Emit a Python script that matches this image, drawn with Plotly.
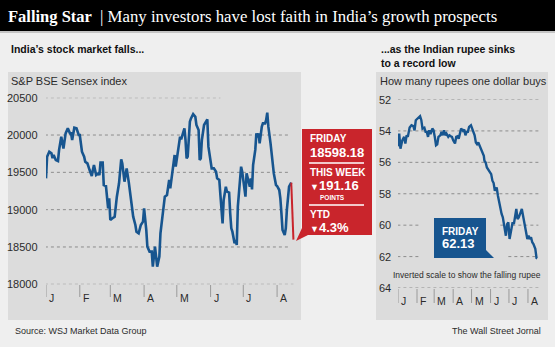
import plotly.graph_objects as go

W, H = 555, 347

# S&P BSE Sensex daily closes, 2013
sensex_dates = [
    "2013-01-01", "2013-01-02", "2013-01-04", "2013-01-06", "2013-01-07", "2013-01-08",
    "2013-01-10", "2013-01-12", "2013-01-13", "2013-01-15", "2013-01-17", "2013-01-19",
    "2013-01-21", "2013-01-23", "2013-01-24", "2013-01-25", "2013-01-27", "2013-01-29",
    "2013-01-31", "2013-02-01", "2013-02-03", "2013-02-05", "2013-02-06", "2013-02-08",
    "2013-02-10", "2013-02-12", "2013-02-13", "2013-02-14", "2013-02-16", "2013-02-18",
    "2013-02-19", "2013-02-20", "2013-02-22", "2013-02-23", "2013-02-25", "2013-02-27",
    "2013-02-28", "2013-03-01", "2013-03-03", "2013-03-05", "2013-03-07", "2013-03-09",
    "2013-03-11", "2013-03-12", "2013-03-14", "2013-03-16", "2013-03-18", "2013-03-20",
    "2013-03-22", "2013-03-24", "2013-03-25", "2013-03-27", "2013-03-29", "2013-03-31",
    "2013-04-01", "2013-04-03", "2013-04-04", "2013-04-06", "2013-04-08", "2013-04-09",
    "2013-04-11", "2013-04-13", "2013-04-15", "2013-04-16", "2013-04-18", "2013-04-20",
    "2013-04-22", "2013-04-24", "2013-04-25", "2013-04-26", "2013-04-27", "2013-04-29",
    "2013-04-30", "2013-05-02", "2013-05-03", "2013-05-04", "2013-05-05", "2013-05-07",
    "2013-05-08", "2013-05-09", "2013-05-10", "2013-05-11", "2013-05-13", "2013-05-14",
    "2013-05-16", "2013-05-18", "2013-05-19", "2013-05-21", "2013-05-22", "2013-05-23",
    "2013-05-24", "2013-05-26", "2013-05-27", "2013-05-28", "2013-05-29", "2013-05-30",
    "2013-06-01", "2013-06-02", "2013-06-04", "2013-06-06", "2013-06-07", "2013-06-09",
    "2013-06-10", "2013-06-11", "2013-06-12", "2013-06-13", "2013-06-15", "2013-06-16",
    "2013-06-18", "2013-06-19", "2013-06-20", "2013-06-21", "2013-06-23", "2013-06-24",
    "2013-06-25", "2013-06-26", "2013-06-28", "2013-06-29", "2013-06-30", "2013-07-02",
    "2013-07-03", "2013-07-04", "2013-07-05", "2013-07-07", "2013-07-08", "2013-07-09",
    "2013-07-10", "2013-07-12", "2013-07-13", "2013-07-14", "2013-07-15", "2013-07-16",
    "2013-07-18", "2013-07-19", "2013-07-21", "2013-07-22", "2013-07-23", "2013-07-24",
    "2013-07-26", "2013-07-27", "2013-07-28", "2013-07-29", "2013-07-31", "2013-08-01",
    "2013-08-03", "2013-08-04", "2013-08-05", "2013-08-06", "2013-08-08", "2013-08-09",
    "2013-08-10", "2013-08-11", "2013-08-12", "2013-08-14",
]
sensex_values = [
    19420, 19710, 19777, 19755, 19690, 19732,
    19665, 19652, 19800, 19978, 19820, 20022,
    20090, 20022, 20022, 19933, 20098, 20090,
    20000, 20000, 19777, 19710, 19643, 19620,
    19531, 19451, 19531, 19598, 19464, 19486,
    19464, 19630, 19630, 19330, 19317, 19018,
    19152, 18862, 18884, 18906, 19174, 19353,
    19674, 19620, 19375, 19553, 19362, 19130,
    18906, 18795, 18705, 18683, 18795, 18839,
    19018, 18728, 18504, 18438, 18438, 18237,
    18504, 18237, 18371, 18683, 18929, 19174,
    19196, 19397, 19286, 19397, 19531, 19732,
    19576, 19777, 19911, 19978, 19942, 20045,
    20090, 19933, 19688, 19710, 20179, 20223,
    20281, 20245, 20134, 20067, 19665, 19688,
    19933, 20134, 20156, 20179, 20210, 19844,
    19643, 19553, 19553, 19509, 19420, 19397,
    19196, 19000, 18817, 19130, 19308, 19241,
    19228, 18951, 18750, 18705, 18549, 18594,
    18527, 19040, 19353, 19576, 19509, 19241,
    19174, 19486, 19420, 19308, 19420, 19272,
    19598, 19800, 20022, 19969, 20022, 19888,
    20112, 20156, 20156, 20201, 20299, 20112,
    19888, 19755, 19665, 19486, 19330, 19317,
    19263, 19152, 18951, 18728, 18661, 18750,
    19000, 19174, 19308, 19362,
]
sensex_friday_date = "2013-08-16"
sensex_friday = 18598.18
sensex_week_change = 191.16
sensex_ytd_pct = 4.3

# Rupees per U.S. dollar, 2013
rupee_dates = [
    "2013-01-01", "2013-01-03", "2013-01-05", "2013-01-08", "2013-01-11", "2013-01-13",
    "2013-01-15", "2013-01-17", "2013-01-20", "2013-01-23", "2013-01-26", "2013-01-28",
    "2013-01-30", "2013-02-03", "2013-02-06", "2013-02-08", "2013-02-10", "2013-02-13",
    "2013-02-15", "2013-02-17", "2013-02-19", "2013-02-21", "2013-02-23", "2013-02-26",
    "2013-02-28", "2013-03-02", "2013-03-04", "2013-03-06", "2013-03-08", "2013-03-11",
    "2013-03-13", "2013-03-15", "2013-03-17", "2013-03-19", "2013-03-21", "2013-03-24",
    "2013-03-26", "2013-03-28", "2013-03-30", "2013-04-01", "2013-04-04", "2013-04-06",
    "2013-04-08", "2013-04-10", "2013-04-12", "2013-04-14", "2013-04-17", "2013-04-19",
    "2013-04-21", "2013-04-23", "2013-04-25", "2013-04-27", "2013-04-30", "2013-05-02",
    "2013-05-04", "2013-05-06", "2013-05-08", "2013-05-10", "2013-05-12", "2013-05-14",
    "2013-05-16", "2013-05-19", "2013-05-21", "2013-05-22", "2013-05-24", "2013-05-26",
    "2013-05-28", "2013-05-31", "2013-06-02", "2013-06-04", "2013-06-06", "2013-06-08",
    "2013-06-11", "2013-06-13", "2013-06-15", "2013-06-17", "2013-06-19", "2013-06-21",
    "2013-06-24", "2013-06-26", "2013-06-28", "2013-06-30", "2013-07-02", "2013-07-04",
    "2013-07-07", "2013-07-09", "2013-07-11", "2013-07-13", "2013-07-15", "2013-07-17",
    "2013-07-20", "2013-07-22", "2013-07-24", "2013-07-26", "2013-07-28", "2013-07-31",
    "2013-08-02", "2013-08-04", "2013-08-06", "2013-08-08", "2013-08-10", "2013-08-13",
    "2013-08-15", "2013-08-16",
]
rupee_values = [
    54.98, 54.17, 55.13, 54.60, 54.38, 54.80,
    54.28, 54.38, 53.79, 53.64, 53.70, 53.96,
    53.32, 53.15, 53.06, 53.30, 53.85, 53.79,
    54.06, 54.06, 54.38, 53.96, 54.20, 53.85,
    53.96, 54.38, 54.91, 54.85, 54.38, 54.28,
    54.06, 54.28, 53.96, 54.28, 54.17, 54.38,
    54.28, 54.34, 54.38, 54.60, 54.80, 54.38,
    54.34, 54.49, 54.17, 53.85, 54.00, 53.91,
    54.28, 54.06, 54.06, 53.74, 53.64, 53.85,
    54.06, 54.28, 54.74, 54.85, 54.74, 54.95,
    55.16, 55.38, 55.59, 55.90, 56.01, 56.33,
    56.43, 56.65, 56.75, 57.17, 57.32, 57.81,
    57.60, 58.13, 58.55, 58.76, 59.29, 59.50,
    60.24, 60.67, 59.93, 59.82, 60.88, 60.46,
    59.82, 59.93, 59.40, 58.97, 59.61, 59.50,
    59.19, 58.97, 59.40, 59.82, 60.46, 60.88,
    60.67, 60.88, 60.77, 61.09, 61.20, 61.51,
    62.10, 62.13,
]

month_starts = ["2013-01-01", "2013-02-01", "2013-03-01", "2013-04-01",
                "2013-05-01", "2013-06-01", "2013-07-01", "2013-08-01"]
month_labels = ["J", "F", "M", "A", "M", "J", "J", "A"]

sensex_ticks = [18000, 18500, 19000, 19500, 20000, 20500]
rupee_ticks = [52, 54, 56, 58, 60, 62, 64]

BLUE = "#17558f"
RED = "#c9252c"
INK = "#2b2b2b"
GRID = "#8d8d8d"
PANEL = "#dcdcdc"
PAGE = "#efefef"
SANS = "Liberation Sans, Arial, sans-serif"
SERIF = "Liberation Serif, Times New Roman, serif"


def fx(p):
    return p / W


def fy(p):
    return 1 - p / H


fig = go.Figure()

fig.add_trace(go.Scatter(
    x=sensex_dates, y=sensex_values, mode="lines",
    line=dict(color=BLUE, width=2.6), xaxis="x", yaxis="y",
    hoverinfo="skip", showlegend=False))
fig.add_trace(go.Scatter(
    x=[sensex_dates[-1], sensex_friday_date], y=[sensex_values[-1], sensex_friday],
    mode="lines", line=dict(color=RED, width=2), xaxis="x", yaxis="y",
    hoverinfo="skip", showlegend=False))
fig.add_trace(go.Scatter(
    x=rupee_dates, y=rupee_values, mode="lines",
    line=dict(color=BLUE, width=2.4), xaxis="x2", yaxis="y2",
    hoverinfo="skip", showlegend=False))

shapes = []
annotations = []

# page furniture
shapes.append(dict(type="rect", xref="paper", yref="paper", x0=0, x1=1,
                   y0=fy(31), y1=1, fillcolor="#000", line_width=0, layer="below"))
shapes.append(dict(type="rect", xref="paper", yref="paper", x0=0, x1=1,
                   y0=fy(33), y1=fy(31), fillcolor="#c4c4c4", line_width=0, layer="below"))
shapes.append(dict(type="rect", xref="paper", yref="paper", x0=fx(8), x1=fx(301),
                   y0=fy(320), y1=fy(72), fillcolor=PANEL, line_width=0, layer="below"))
shapes.append(dict(type="rect", xref="paper", yref="paper", x0=fx(376), x1=fx(548),
                   y0=fy(320), y1=fy(72), fillcolor=PANEL, line_width=0, layer="below"))

# Sensex gridlines
for v in sensex_ticks:
    end = "2013-06-10" if v == 20500 else ("2013-08-16" if v == 18000 else "2013-08-12")
    shapes.append(dict(type="line", xref="x", yref="y", x0="2012-12-31", x1=end,
                       y0=v, y1=v, line=dict(color=GRID, width=1, dash="dot"), layer="below"))
    annotations.append(dict(xref="paper", yref="y", x=fx(40), y=v, text=str(v),
                            xanchor="right", yanchor="middle", showarrow=False,
                            font=dict(family=SANS, size=11, color=INK)))

# Rupee gridlines (broken around the callout)
for v in rupee_ticks:
    if v in (60, 62):
        segs = [("2012-12-31", "2013-02-05"), ("2013-06-17" if v == 60 else "2013-06-30", "2013-08-18")]
    else:
        segs = [("2012-12-31", "2013-08-18")]
    for a, b in segs:
        shapes.append(dict(type="line", xref="x2", yref="y2", x0=a, x1=b, y0=v, y1=v,
                           line=dict(color=GRID, width=1, dash="dot"), layer="below"))
    annotations.append(dict(xref="paper", yref="y2", x=fx(393), y=v, text=str(v),
                            xanchor="right", yanchor="middle", showarrow=False,
                            font=dict(family=SANS, size=11, color=INK)))

# month ticks
for d, lab in zip(month_starts, month_labels):
    shapes.append(dict(type="line", xref="x", yref="paper", x0=d, x1=d,
                       y0=fy(297), y1=fy(285), line=dict(color="#9a9a9a", width=1)))
    annotations.append(dict(xref="x", yref="paper", x=d, y=fy(298), text=lab,
                            xanchor="left", yanchor="middle", xshift=1, showarrow=False,
                            font=dict(family=SANS, size=10.5, color=INK)))
    shapes.append(dict(type="line", xref="x2", yref="paper", x0=d, x1=d,
                       y0=fy(303), y1=fy(289), line=dict(color="#9a9a9a", width=1)))
    annotations.append(dict(xref="x2", yref="paper", x=d, y=fy(301), text=lab,
                            xanchor="left", yanchor="middle", xshift=1, showarrow=False,
                            font=dict(family=SANS, size=10.5, color=INK)))

# red Sensex callout
red_path = (f"M {fx(302)},{fy(129)} L {fx(372)},{fy(129)} L {fx(372)},{fy(235)} "
            f"L {fx(308)},{fy(235)} L {fx(296)},{fy(241)} L {fx(302)},{fy(228)} Z")
shapes.append(dict(type="path", xref="paper", yref="paper", path=red_path,
                   fillcolor=RED, line_width=0))
for yy in (163, 205):
    shapes.append(dict(type="line", xref="paper", yref="paper", x0=fx(309), x1=fx(364),
                       y0=fy(yy), y1=fy(yy), line=dict(color="white", width=1.5)))

# blue rupee callout
blue_path = (f"M {fx(434)},{fy(218)} L {fx(486)},{fy(218)} L {fx(486)},{fy(250)} "
             f"L {fx(494)},{fy(258)} L {fx(434)},{fy(258)} Z")
shapes.append(dict(type="path", xref="paper", yref="paper", path=blue_path,
                   fillcolor=BLUE, line_width=0))


def text(x, y, s, size, bold=False, color=INK, family=SANS, anchor="left"):
    annotations.append(dict(xref="paper", yref="paper", x=fx(x), y=fy(y),
                            text=f"<b>{s}</b>" if bold else s, xanchor=anchor,
                            yanchor="middle", showarrow=False,
                            font=dict(family=family, size=size, color=color)))


text(6, 17, "Falling Star", 16.5, bold=True, color="white", family=SERIF)
text(98, 17, "| Many investors have lost faith in India’s growth prospects", 16.8,
     color="white", family=SERIF)
text(9, 49, "India’s stock market falls...", 10.5, bold=True, color="#111")
text(379, 49, "...as the Indian rupee sinks", 10.5, bold=True, color="#111")
text(379, 63, "to a record low", 10.5, bold=True, color="#111")
text(9, 81, "S&P BSE Sensex index", 11, color=INK)
text(378, 81, "How many rupees one dollar buys", 11, color=INK)

text(308, 139, "FRIDAY", 10, bold=True, color="white")
text(308, 152, f"{sensex_friday:.2f}", 13, bold=True, color="white")
text(308, 172, "THIS WEEK", 10, bold=True, color="white")
text(308, 185, f"<span style='font-size:9px'>▼</span>{sensex_week_change:.2f}", 13,
     bold=True, color="white")
text(318, 197, "POINTS", 6.5, bold=True, color="white")
text(308, 214, "YTD", 10, bold=True, color="white")
text(308, 227, f"<span style='font-size:9px'>▼</span>{sensex_ytd_pct}%", 13,
     bold=True, color="white")

text(440, 231, "FRIDAY", 10, bold=True, color="white")
text(440, 243, f"{rupee_values[-1]:.2f}", 13, bold=True, color="white")

text(467, 275, "Inverted scale to show the falling rupee", 8.5, color=INK, anchor="center")
text(13, 331, "Source: WSJ Market Data Group", 9, color=INK)
text(543, 331, "The Wall Street Jornal", 9, color=INK, anchor="right")

hidden = dict(showgrid=False, zeroline=False, showline=False, showticklabels=False,
              ticks="", fixedrange=True)

fig.update_layout(
    width=W, height=H, margin=dict(l=0, r=0, t=0, b=0),
    paper_bgcolor=PAGE, plot_bgcolor="rgba(0,0,0,0)",
    showlegend=False,
    xaxis=dict(hidden, type="date", range=["2013-01-01", "2013-08-19"],
               domain=[fx(46), fx(46 + 230 * 1.09)]),
    yaxis=dict(hidden, range=[18000, 20500], domain=[fy(284.3), fy(97.7)]),
    xaxis2=dict(hidden, type="date", range=["2013-01-01", "2013-08-20"],
                domain=[fx(398), fx(398 + 231 * 0.613)], anchor="y2"),
    yaxis2=dict(hidden, range=[64, 52], domain=[fy(288), fy(99.5)], anchor="x2"),
    shapes=shapes, annotations=annotations,
)

fig.write_html("out.html")
